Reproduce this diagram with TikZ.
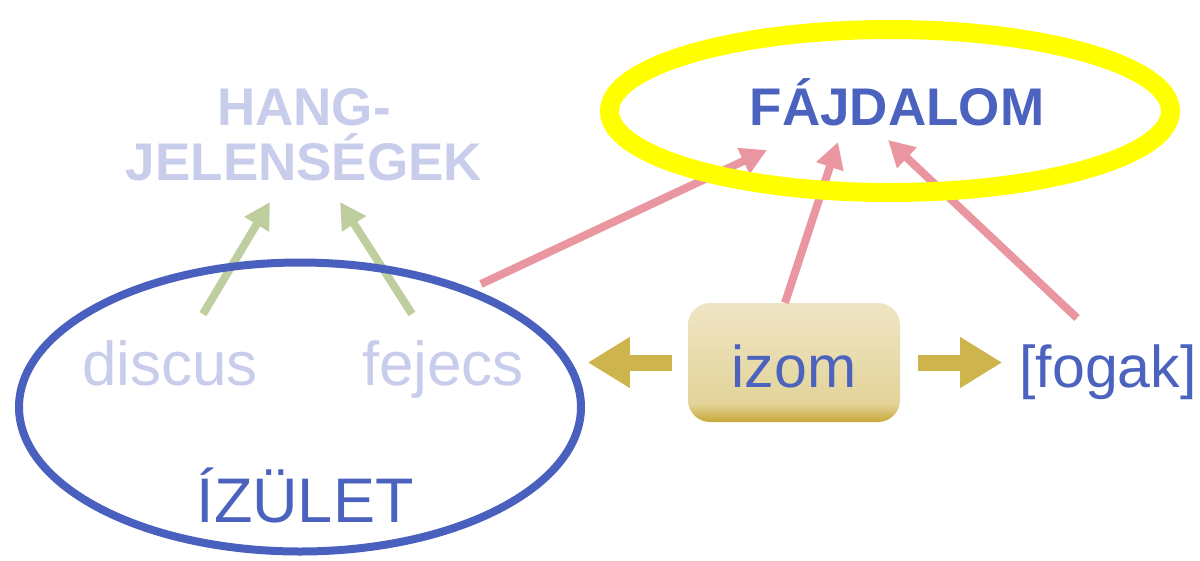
\documentclass[tikz,border=0pt]{standalone}
\usepackage{fontspec}
\setmainfont{Liberation Sans}
\usetikzlibrary{arrows.meta,shapes.geometric}
\definecolor{txtblue}{RGB}{75,98,190}
\definecolor{ellblue}{RGB}{74,96,190}
\definecolor{lav}{RGB}{200,205,236}
\definecolor{yel}{RGB}{255,255,0}
\definecolor{pinkc}{RGB}{234,150,160}
\definecolor{greenc}{RGB}{190,206,158}
\definecolor{goldc}{RGB}{205,180,76}
\definecolor{gd}{RGB}{200,168,58}
\definecolor{gm}{RGB}{227,212,154}
\definecolor{gl}{RGB}{239,229,196}
\pgfdeclareverticalshading{izomshade}{100bp}{color(0bp)=(gd);color(25bp)=(gd);color(33bp)=(gm);color(75bp)=(gl);color(100bp)=(gl)}
\begin{document}
\begin{tikzpicture}[x=1pt,y=-1pt,
  bigtxt/.style={font=\fontsize{62}{62}\selectfont, inner sep=0pt, anchor=base},
  boldtxt/.style={font=\bfseries\fontsize{53}{55}\selectfont, inner sep=0pt, anchor=base, align=center},
  pinkarrow/.style={draw=pinkc, line width=8pt, -{Triangle[length=26pt,width=27pt]}, pinkc},
  greenarrow/.style={draw=greenc, line width=8pt, -{Triangle[length=26pt,width=27pt]}, greenc},
  goldarrow/.style={draw=goldc, line width=16pt, -{Triangle[length=42pt,width=48pt]}, goldc},
  ell/.style={ellipse, inner sep=0pt}
]
\fill[white] (0,0) rectangle (1200,560);
\useasboundingbox (0,0) rectangle (1200,560);
% coordinates for connector ends
\coordinate (g1s) at (203,314);
\coordinate (g1e) at (270,202);
\coordinate (g2s) at (412,314);
\coordinate (g2e) at (340,202);
\coordinate (p1s) at (481,284);
\coordinate (p1e) at (767,150);
\coordinate (p3s) at (1077,318);
\coordinate (p3e) at (888,140);
\coordinate (p2e) at (838,142);
% green arrows
\draw[greenarrow] (g1s) -- (g1e);
\draw[greenarrow] (g2s) -- (g2e);
% blue ellipse
\node[ell, draw=ellblue, line width=8pt, minimum width=562pt, minimum height=289pt] (izell) at (300,407) {};
% izom box
\node[rounded corners=22pt, shading=izomshade, minimum width=212pt, minimum height=119pt, inner sep=0pt] (izbox) at (794,362.5) {};
% pink arrows
\draw[pinkarrow] (p1s) -- (p1e);
\draw[pinkarrow] (izbox.north) ++(-9,0) coordinate (p2s) -- (p2e);
\draw[pinkarrow] (p3s) -- (p3e);
% yellow ellipse
\node[ell, draw=yel, line width=19pt, minimum width=561pt, minimum height=163pt] (fajell) at (890,111) {};
% gold arrows
\draw[goldarrow] ([xshift=-16pt]izbox.west) -- ++(-84,0) coordinate (goldL);
\draw[goldarrow] ([xshift=18pt]izbox.east) -- ++(84,0) coordinate (goldR);
% texts
\node[boldtxt, text=txtblue] (fajdalom) at (897,125) {FÁJDALOM};
\node[boldtxt, text=lav] (hang) at (304,125) {HANG-};
\node[boldtxt, text=lav] (jelen) at (304,180) {JELENSÉGEK};
\node[bigtxt, text=lav] (discus) at (170,385) {discus};
\node[bigtxt, text=lav] (fejecs) at (443,385) {fejecs};
\node[bigtxt, text=txtblue, font=\fontsize{59}{59}\selectfont] (izom) at (794,387) {izom};
\node[bigtxt, text=txtblue, font=\fontsize{59}{59}\selectfont] (fogak) at (1108,387) {[fogak]};
\node[bigtxt, text=txtblue, font=\fontsize{63}{63}\selectfont] (izulet) at (305,522) {ÍZÜLET};
\end{tikzpicture}
\end{document}
